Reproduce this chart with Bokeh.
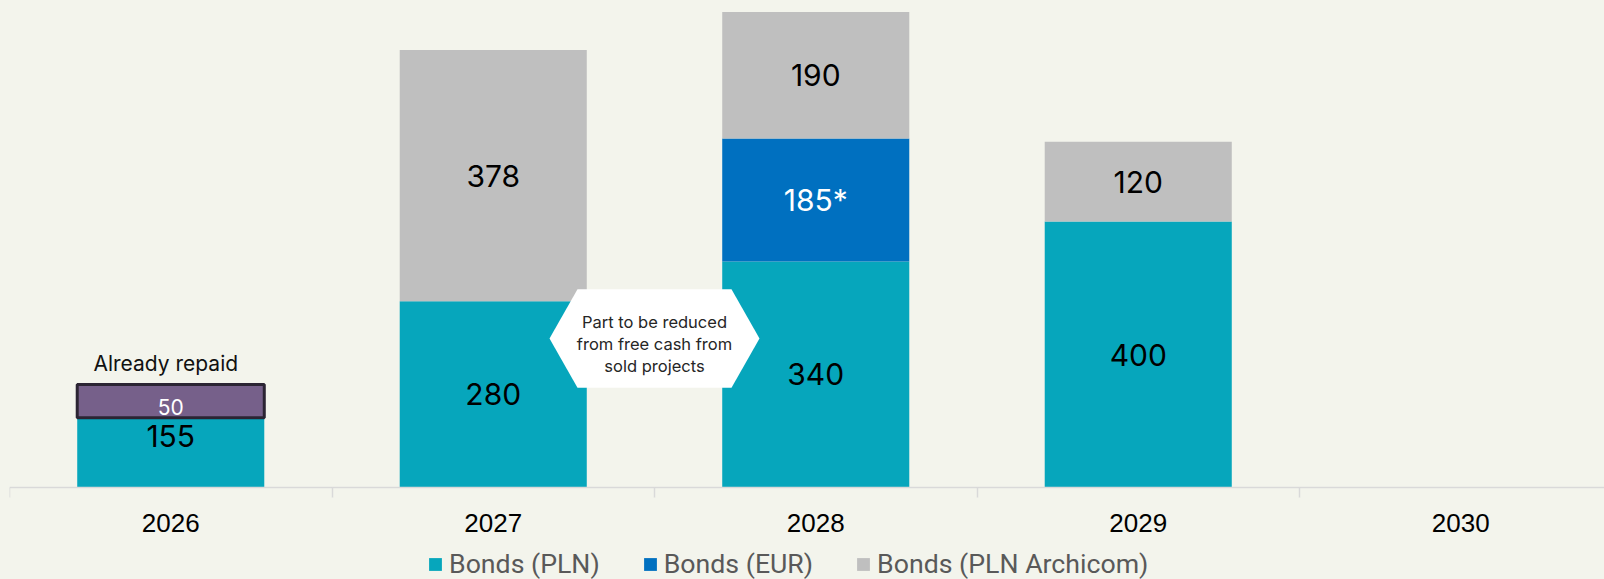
from bokeh.plotting import figure
from bokeh.models import (ColumnDataSource, Range1d, LinearAxis, FixedTicker,
                          Legend, LegendItem)
from bokeh.core.properties import value
from bokeh.embed import file_html
from bokeh.resources import INLINE

# ---------------- data ----------------
years = ["2026", "2027", "2028", "2029", "2030"]
bonds_pln = [155, 280, 340, 400, 0]
bonds_eur = [0, 0, 185, 0, 0]
bonds_archicom = [0, 378, 190, 120, 0]
already_repaid = [50, 0, 0, 0, 0]
series_names = ["Bonds (PLN)", "Bonds (EUR)", "Bonds (PLN Archicom)"]
eur_note = "*"
repaid_label = "Already repaid"
callout_lines = ["Part to be reduced", "from free cash from", "sold projects"]

# ---------------- style / layout ----------------
BG = "#F3F4EC"
series_colors = ["#06A6BC", "#0070C0", "#BFBFBF"]
label_colors = ["#000000", "#FFFFFF", "#000000"]
REPAID_FILL = "#76608A"
REPAID_LINE = "#2B2433"
W, H = 1604, 579
LEFT = 9            # frame left edge (px)
BASE_PX = 487       # pixel row of the value-axis zero line
CAT_PX = 322.5      # pixels per category
Y_PX = 0.665        # pixels per unit
BAR_W = 0.58

x = [i + 0.5 for i in range(len(years))]

p = figure(width=W, height=H, output_backend="svg", toolbar_location=None,
           x_range=Range1d(0, (W - LEFT) / CAT_PX),
           y_range=Range1d(-(H - BASE_PX) / Y_PX, BASE_PX / Y_PX),
           min_border=0, min_border_left=LEFT, min_border_right=0,
           min_border_top=0, min_border_bottom=0,
           background_fill_color=BG, border_fill_color=BG,
           outline_line_color=None, x_axis_type=None, y_axis_type=None)

src = ColumnDataSource(dict(x=x, pln=bonds_pln, eur=bonds_eur, arch=bonds_archicom))
stack_cols = ["pln", "eur", "arch"]
rs = p.vbar_stack(stack_cols, x="x", width=BAR_W, fill_color=series_colors,
                  line_color=None, source=src)

# value labels, centred in each segment
series_vals = [bonds_pln, bonds_eur, bonds_archicom]
lx, ly, lt, lc = [], [], [], []
for i in range(len(years)):
    base = 0
    for s, vals in enumerate(series_vals):
        v = vals[i]
        if v > 0:
            lx.append(x[i])
            ly.append(base + v / 2)
            lt.append(str(v) + (eur_note if s == 1 else ""))
            lc.append(label_colors[s])
        base += v
p.text(x=lx, y=ly, text=lt, text_color=lc, text_align="center",
       text_baseline="middle", text_font=value("Inter"), text_font_size="30px")

# already-repaid overlay
rx = [x[i] for i in range(len(years)) if already_repaid[i] > 0]
rtop = [bonds_pln[i] for i in range(len(years)) if already_repaid[i] > 0]
rbot = [bonds_pln[i] - already_repaid[i] for i in range(len(years)) if already_repaid[i] > 0]
rval = [str(already_repaid[i]) for i in range(len(years)) if already_repaid[i] > 0]
p.vbar(x=rx, bottom=rbot, top=rtop, width=BAR_W, fill_color=REPAID_FILL,
       line_color=REPAID_LINE, line_width=3)
p.text(x=rx, y=[(a + b) / 2 for a, b in zip(rbot, rtop)], text=rval,
       text_color="white", text_align="center", text_baseline="middle",
       y_offset=6, text_font=value("Inter"), text_font_size="21px")
p.text(x=rx, y=rtop, text=[repaid_label] * len(rx), text_color="#111111",
       text_align="center", text_baseline="alphabetic", y_offset=-21,
       x_offset=-5, text_font=value("Inter"), text_font_size="21px")

# callout hexagon between 2027 and 2028
cx = 2.0
cy_top, cy_mid, cy_bot = 298, 224, 150
half_outer, half_inner = 105 / CAT_PX, 77 / CAT_PX
p.patch([cx - half_outer, cx - half_inner, cx + half_inner, cx + half_outer,
         cx + half_inner, cx - half_inner],
        [cy_mid, cy_top, cy_top, cy_mid, cy_bot, cy_bot],
        fill_color="white", line_color=None)
p.text(x=[cx] * 3, y=[cy_mid] * 3, text=callout_lines, y_offset=[-17, 5, 27],
       text_color="#262626", text_align="center", text_baseline="alphabetic",
       text_font=value("Inter"), text_font_size="16.5px")

# x axis drawn at value 0: labels at centres, tick marks at category boundaries
xaxis = LinearAxis(ticker=FixedTicker(ticks=x, minor_ticks=list(range(len(years)))),
                   major_label_overrides={xi: yr for xi, yr in zip(x, years)},
                   fixed_location=0,
                   axis_line_color="#D9D9D9", axis_line_width=1.5,
                   major_tick_line_color=None, major_tick_out=0, major_tick_in=0,
                   minor_tick_line_color="#D9D9D9", minor_tick_out=10,
                   minor_tick_in=0, minor_tick_line_width=1.5,
                   major_label_text_font="Liberation Sans",
                   major_label_text_font_size="26px",
                   major_label_text_color="#000000", major_label_standoff=16)
p.add_layout(xaxis, "below")

legend = Legend(items=[LegendItem(label=n, renderers=[r]) for n, r in zip(series_names, rs)],
                location=(418, -1), orientation="horizontal",
                glyph_width=16, glyph_height=16, label_standoff=6, spacing=42,
                padding=0, margin=0, border_line_color=None,
                background_fill_alpha=0, label_text_font="Roboto",
                label_text_font_size="26.7px", label_text_color="#595959")
p.add_layout(legend)

html = file_html(p, INLINE).replace("<head>", "<head><style>body{background:#F3F4EC;}</style>", 1)
open("out.html", "w").write(html)
